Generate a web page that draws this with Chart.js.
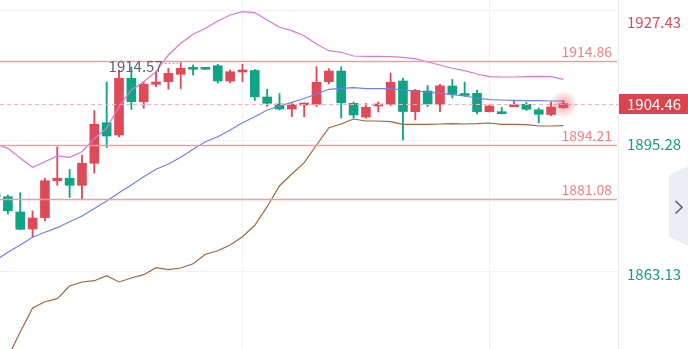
<!DOCTYPE html>
<html>
<head>
<meta charset="utf-8">
<script src="https://cdn.jsdelivr.net/npm/chart.js@4.4.0/dist/chart.umd.min.js"></script>
<style>
  html, body { margin: 0; padding: 0; background: #fff; }
  #wrap { width: 688px; height: 349px; position: relative; }
</style>
</head>
<body>
<div id="wrap"><canvas id="kline"></canvas></div>
<script>
// candles, oldest first (first one is cut off by the left edge)
const opens  = [1882.22,1881.55,1877.79,1873.60,1876.38,1885.49,1886.09,1884.36,1889.78,1899.78,1896.75,1910.72,1904.95,1909.24,1909.88,1911.70,1913.01,1913.01,1913.82,1910.05,1912.27,1912.64,1906.11,1904.39,1903.15,1904.14,1904.31,1909.88,1912.51,1904.56,1901.18,1903.89,1904.39,1910.05,1902.49,1907.59,1904.31,1908.82,1906.73,1907.02,1902.49,1902.17,1903.72,1904.31,1902.96,1901.80,1903.50]
const highs  = [1882.47,1881.97,1882.54,1878.03,1886.09,1893.80,1888.25,1891.82,1902.74,1909.80,1912.76,1913.50,1909.88,1912.34,1913.18,1914.57,1913.99,1913.01,1914.16,1912.76,1914.16,1912.88,1908.01,1906.97,1904.51,1904.63,1913.57,1913.08,1913.57,1904.88,1904.51,1904.88,1912.02,1910.72,1908.01,1908.94,1909.24,1910.42,1909.80,1907.83,1904.14,1903.52,1905.25,1904.80,1903.40,1904.88,1905.20]
const lows   = [1881.23,1877.29,1873.40,1871.63,1875.64,1884.36,1881.36,1880.99,1887.39,1893.67,1896.33,1903.08,1903.33,1908.65,1908.01,1908.20,1911.53,1912.93,1909.56,1909.63,1909.88,1905.25,1903.77,1902.91,1901.26,1901.26,1903.77,1909.31,1900.94,1900.94,1900.86,1902.42,1904.02,1895.52,1900.45,1903.77,1902.49,1905.86,1906.23,1901.92,1902.40,1901.92,1903.70,1902.79,1899.71,1901.50,1903.30]
const closes = [1881.48,1878.11,1873.52,1876.31,1885.49,1886.09,1884.36,1889.78,1899.39,1896.50,1910.72,1904.95,1909.24,1909.80,1911.95,1913.18,1912.93,1912.93,1910.05,1912.34,1912.76,1906.18,1904.56,1903.15,1904.31,1904.46,1909.73,1912.51,1904.71,1901.68,1903.57,1904.39,1909.73,1902.54,1907.76,1904.39,1908.87,1906.78,1906.48,1902.49,1903.89,1902.00,1903.89,1903.08,1901.85,1903.65,1904.46]

// bollinger bands
const upperBand  = [1894.53,1893.47,1891.09,1888.80,1890.17,1891.58,1891.26,1892.64,1895.89,1898.40,1903.72,1907.83,1909.88,1912.34,1916.45,1919.34,1921.55,1923.03,1924.83,1926.31,1927.12,1926.87,1925.08,1923.28,1922.44,1921.21,1919.16,1917.51,1917.12,1916.21,1916.13,1916.13,1916.04,1915.89,1915.54,1914.73,1913.99,1913.18,1912.59,1911.78,1911.11,1911.04,1911.04,1911.11,1911.21,1911.11,1910.47]
const middleBand = [1865.84,1867.86,1869.66,1871.55,1872.79,1873.92,1875.40,1876.80,1878.65,1880.50,1882.54,1884.44,1886.48,1888.30,1889.61,1891.26,1893.23,1895.10,1896.33,1897.98,1899.78,1901.26,1902.91,1903.89,1904.80,1905.74,1906.85,1908.01,1908.25,1908.40,1908.15,1908.15,1908.15,1907.83,1907.59,1907.34,1907.02,1906.68,1906.36,1905.86,1905.45,1905.37,1905.30,1905.20,1905.20,1905.12,1905.12]
const lowerBand  = [1836.16,1842.07,1848.23,1854.14,1855.69,1856.43,1859.56,1860.55,1860.86,1862.10,1860.55,1861.53,1862.34,1864.07,1863.57,1863.99,1865.05,1867.39,1868.23,1869.66,1871.70,1874.51,1879.09,1884.26,1887.15,1889.93,1894.29,1898.55,1899.46,1900.69,1900.20,1900.20,1900.03,1899.39,1899.39,1899.39,1899.46,1899.53,1899.46,1899.53,1899.71,1899.39,1899.39,1899.29,1898.97,1898.97,1899.04]

const priceLines = [1914.86, 1894.21, 1881.08]
const lastPrice = 1904.46
const axisTicks = [1863.13, 1895.28, 1927.43]
const timeGrid = [20, 40]

const RED = '#df4a58'
const GREEN = '#0fa584'
const FONT = '"Noto Sans CJK SC", "Noto Sans", sans-serif'

const slots = opens.map((_, i) => i)
const candleColor = slots.map(i => closes[i] >= opens[i] ? RED : GREEN)

const overlay = {
  id: 'overlay',
  afterDatasetsDraw(chart) {
    const {ctx, chartArea: a, scales: {x, y}} = chart
    ctx.save()
    ctx.beginPath()
    ctx.rect(a.left, a.top, a.right - a.left, a.bottom - a.top)
    ctx.clip()

    // support / resistance lines
    ctx.lineWidth = 1.5
    ctx.strokeStyle = '#f49c9c'
    ctx.fillStyle = '#f38080'
    ctx.font = '14px ' + FONT
    ctx.textAlign = 'right'
    ctx.textBaseline = 'middle'
    priceLines.forEach(v => {
      const py = Math.round(y.getPixelForValue(v)) + 0.5
      ctx.beginPath()
      ctx.moveTo(a.left, py)
      ctx.lineTo(a.right - 1, py)
      ctx.stroke()
      ctx.fillText(v.toFixed(2), a.right - 6, py - 9.5)
    })

    // last price dashed line
    const ly = Math.round(y.getPixelForValue(lastPrice)) + 0.5
    ctx.lineWidth = 1
    ctx.strokeStyle = '#f5b4b9'
    ctx.setLineDash([4, 3])
    ctx.beginPath()
    ctx.moveTo(a.left, ly)
    ctx.lineTo(a.right, ly)
    ctx.stroke()
    ctx.setLineDash([])

    // glow on the live candle
    const last = slots.length - 1
    const gx = x.getPixelForValue(last)
    const g = ctx.createRadialGradient(gx, ly, 2, gx, ly, 14)
    g.addColorStop(0, 'rgba(226,80,95,0.45)')
    g.addColorStop(1, 'rgba(226,80,95,0)')
    ctx.fillStyle = g
    ctx.beginPath()
    ctx.arc(gx, ly, 14, 0, Math.PI * 2)
    ctx.fill()

    // highest high marker
    let hi = 0
    slots.forEach(i => { if (highs[i] > highs[hi]) hi = i })
    const hx = x.getPixelForValue(hi)
    const hy = y.getPixelForValue(highs[hi])
    ctx.strokeStyle = '#8a8f99'
    ctx.lineWidth = 1
    ctx.setLineDash([1.5, 2.5])
    ctx.beginPath()
    ctx.moveTo(hx - 16, Math.round(hy) + 0.5)
    ctx.lineTo(hx - 3, Math.round(hy) + 0.5)
    ctx.stroke()
    ctx.setLineDash([])
    ctx.fillStyle = '#5f6572'
    ctx.font = '15px ' + FONT
    ctx.textAlign = 'right'
    ctx.fillText(highs[hi].toFixed(2), hx - 18, hy + 4)
    ctx.restore()
  },
  afterDraw(chart) {
    const {ctx, chartArea: a, scales: {y}} = chart
    const W = chart.width
    ctx.save()
    ctx.font = '15px ' + FONT
    ctx.textAlign = 'left'
    ctx.textBaseline = 'middle'
    axisTicks.forEach(v => {
      const py = Math.max(y.getPixelForValue(v) + 3, 22)
      ctx.fillStyle = v > lastPrice ? '#dc4a5a' : '#14a07f'
      ctx.fillText(v.toFixed(2), a.right + 9, py)
    })
    // last price tag
    const ly = y.getPixelForValue(lastPrice)
    ctx.fillStyle = '#d9444f'
    ctx.fillRect(a.right + 1, Math.round(ly) - 10, W - a.right - 1, 20)
    ctx.fillStyle = '#ffffff'
    ctx.fillText(lastPrice.toFixed(2), a.right + 9, ly + 0.5)

    // side toggle button
    ctx.fillStyle = '#eceef3'
    ctx.beginPath()
    ctx.moveTo(W - 19, 175)
    ctx.lineTo(W, 166)
    ctx.lineTo(W, 246)
    ctx.lineTo(W - 19, 237)
    ctx.closePath()
    ctx.fill()
    ctx.strokeStyle = '#5b606c'
    ctx.lineWidth = 1.6
    ctx.beginPath()
    ctx.moveTo(W - 12.5, 201)
    ctx.lineTo(W - 6, 207.3)
    ctx.lineTo(W - 12.5, 213.5)
    ctx.stroke()
    ctx.restore()
  }
}

new Chart(document.getElementById('kline'), {
  type: 'bar',
  data: {
    datasets: [
      {
        type: 'line', label: 'upper', data: slots.map(i => ({x: i, y: upperBand[i]})),
        borderColor: '#d878d2', borderWidth: 1.2, pointRadius: 0, tension: 0, order: 0
      },
      {
        type: 'line', label: 'middle', data: slots.map(i => ({x: i, y: middleBand[i]})),
        borderColor: '#6b80f6', borderWidth: 1.2, pointRadius: 0, tension: 0, order: 0
      },
      {
        type: 'line', label: 'lower', data: slots.map(i => ({x: i, y: lowerBand[i]})),
        borderColor: '#a5653b', borderWidth: 1.2, pointRadius: 0, tension: 0, order: 0
      },
      {
        label: 'body', data: slots.map(i => ({x: i, y: [opens[i], closes[i]]})),
        backgroundColor: candleColor, barThickness: 9, minBarLength: 2,
        grouped: false, borderWidth: 0, order: 1
      },
      {
        label: 'wick', data: slots.map(i => ({x: i, y: [lows[i], highs[i]]})),
        backgroundColor: candleColor, barThickness: 1.2,
        grouped: false, borderWidth: 0, order: 2
      }
    ]
  },
  options: {
    responsive: true,
    maintainAspectRatio: false,
    animation: false,
    devicePixelRatio: 1,
    layout: {padding: 0},
    plugins: {legend: {display: false}, tooltip: {enabled: false}},
    scales: {
      x: {
        type: 'linear', min: 0.36, max: 50.42, offset: false,
        afterBuildTicks: s => { s.ticks = timeGrid.map(v => ({value: v})) },
        afterFit: s => { s.height = 0 },
        ticks: {display: false},
        grid: {color: '#f1f2f5', drawTicks: false, offset: false},
        border: {display: false}
      },
      y: {
        position: 'right', min: 1844.04, max: 1930.0,
        afterBuildTicks: s => { s.ticks = axisTicks.map(v => ({value: v})) },
        afterFit: s => { s.width = 70 },
        ticks: {display: false},
        grid: {color: '#f0f1f4', drawTicks: false},
        border: {display: true, color: '#eaebf0'}
      }
    }
  },
  plugins: [overlay]
})
</script>
</body>
</html>
